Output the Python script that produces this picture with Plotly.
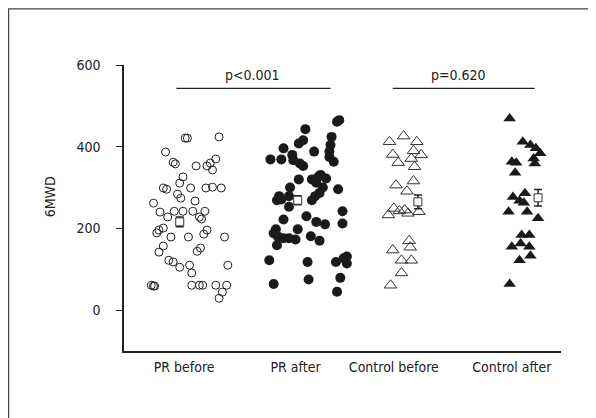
import plotly.graph_objects as go

# ---- data ----
categories = ["PR before", "PR after", "Control before", "Control after"]
category_pos = [1.00, 2.02, 2.92, 4.00]

pr_before_x = [1.01, 1.03, 1.32, 0.83, 0.90, 0.92, 1.11, 1.21, 1.24, 1.29, 1.26, 0.99, 0.96, 0.81, 0.84,
               1.06, 1.20, 1.26, 1.34, 0.94, 0.97, 0.72, 1.10, 0.78, 0.85, 0.91, 0.99, 1.08, 1.19, 1.14,
               1.16, 0.81, 0.77, 0.75, 1.21, 1.18, 0.88, 1.04, 1.37, 0.81, 0.77, 1.15, 1.12, 0.86, 0.90,
               0.96, 1.05, 1.07, 1.40, 0.70, 0.72, 0.73, 1.07, 1.14, 1.17, 1.29, 1.39, 1.35, 1.32]
pr_before_y = [421, 421, 424, 387, 362, 358, 353, 353, 360, 370, 343, 326, 311, 299, 296,
               299, 299, 301, 299, 284, 274, 262, 267, 240, 228, 242, 242, 242, 242, 228,
               223, 201, 196, 189, 196, 186, 179, 179, 179, 157, 142, 152, 144, 122, 118,
               105, 110, 91, 110, 61, 59, 59, 61, 61, 61, 61, 61, 44, 29]

pr_after_x = [2.40, 2.42, 2.11, 2.09, 2.05, 2.35, 2.34, 2.33, 2.33, 2.37, 1.91, 1.79, 1.89, 1.99, 2.19,
              2.00, 2.06, 2.09, 2.05, 2.17, 2.23, 2.25, 2.30, 2.21, 2.27, 1.97, 2.41, 1.87, 1.85, 1.89,
              1.96, 2.24, 2.20, 2.17, 1.96, 2.12, 1.91, 2.21, 2.29, 2.45, 2.45, 1.84, 1.82, 1.86, 1.91,
              1.96, 2.02, 2.04, 1.85, 2.16, 2.24, 1.78, 2.13, 2.39, 2.46, 2.49, 2.49, 1.82, 2.14, 2.43, 2.40]
pr_after_y = [461, 465, 443, 416, 408, 424, 404, 388, 375, 363, 396, 369, 369, 380, 388,
              367, 359, 353, 320, 320, 327, 331, 322, 312, 300, 300, 296, 279, 269, 271,
              279, 287, 279, 269, 253, 230, 222, 216, 210, 242, 212, 198, 188, 180, 176,
              176, 173, 198, 159, 181, 170, 122, 118, 118, 127, 131, 114, 64, 75, 79, 45]

ctrl_before_x = [2.88, 3.01, 3.13, 3.10, 3.08, 3.17, 3.11, 2.91, 2.96, 2.94, 3.10, 3.04, 2.92, 2.97, 3.02,
                 3.05, 2.87, 3.15, 3.06, 3.07, 2.91, 2.99, 3.08, 2.99, 2.89]
ctrl_before_y = [412, 426, 412, 390, 371, 380, 351, 381, 361, 306, 316, 291, 249, 243, 245,
                 237, 233, 241, 170, 154, 147, 122, 122, 91, 61]

ctrl_after_x = [3.98, 4.10, 4.17, 4.22, 4.26, 4.20, 4.21, 4.00, 4.04, 4.03, 4.01, 4.07, 4.12, 4.11, 3.97,
                4.14, 4.24, 4.09, 4.16, 4.00, 4.08, 4.16, 4.07, 4.17, 3.98]
ctrl_after_y = [469, 412, 404, 396, 384, 371, 359, 363, 361, 336, 277, 268, 286, 263, 241,
                241, 225, 184, 184, 155, 163, 155, 122, 133, 64]

mean_x = [0.96, 2.04, 3.14, 4.24]
mean_y = [216, 269, 265, 275]
sem = [12, 11, 17, 20]

y_ticks = [0, 200, 400, 600]
p_labels = ["p<0.001", "p=0.620"]

FONT = "Liberation Sans Narrow, DejaVu Sans Condensed, Arial Narrow, sans-serif"

fig = go.Figure()

fig.add_trace(go.Scatter(x=pr_before_x, y=pr_before_y, mode="markers",
                         marker=dict(symbol="circle-open", size=8, color="#222", line=dict(width=1)),
                         cliponaxis=False, showlegend=False))
fig.add_trace(go.Scatter(x=pr_after_x, y=pr_after_y, mode="markers",
                         marker=dict(symbol="circle", size=10, color="#1a1a1a"),
                         cliponaxis=False, showlegend=False))
fig.add_trace(go.Scatter(x=ctrl_before_x, y=ctrl_before_y, mode="markers",
                         marker=dict(symbol="triangle-up-open", size=11, color="#333", line=dict(width=1)),
                         cliponaxis=False, showlegend=False))
fig.add_trace(go.Scatter(x=ctrl_after_x, y=ctrl_after_y, mode="markers",
                         marker=dict(symbol="triangle-up", size=11, color="#1a1a1a"),
                         cliponaxis=False, showlegend=False))
fig.add_trace(go.Scatter(x=mean_x, y=mean_y, mode="markers",
                         marker=dict(symbol="square", size=8, color="white",
                                     line=dict(width=1, color="#333")),
                         error_y=dict(type="data", array=sem, visible=True, color="#222",
                                      thickness=1.5, width=4),
                         cliponaxis=False, showlegend=False))

# significance bars
sig = [(0.93, 2.34, 1.63), (2.91, 4.21, 3.51)]
for (x0, x1, xc), lab in zip(sig, p_labels):
    fig.add_shape(type="line", xref="x", yref="y", x0=x0, x1=x1, y0=543, y1=543,
                  line=dict(color="#222", width=1.3))
    fig.add_annotation(x=xc, y=543, xref="x", yref="y", text=lab, showarrow=False,
                       yanchor="bottom", yshift=3, font=dict(family=FONT, size=14, color="#222"))

# y-axis title
fig.add_annotation(xref="paper", yref="paper", x=-0.17, y=0.54, text="6MWD", textangle=-90,
                   xanchor="center", yanchor="middle",
                   showarrow=False, font=dict(family=FONT, size=14, color="#222"))

# outer frame (figure edge)
fig.add_shape(type="rect", xref="paper", yref="paper", x0=-0.2640, x1=1.15, y0=-0.35, y1=1.1965,
              line=dict(color="#444", width=1.2), layer="below")

fig.update_layout(
    width=596, height=418,
    margin=dict(l=116, r=43, t=57, b=75),
    plot_bgcolor="white", paper_bgcolor="white",
    font=dict(family=FONT, size=14, color="#222"),
    xaxis=dict(range=[0.45, 4.45], tickvals=category_pos, ticktext=categories,
               showline=True, linecolor="#222", linewidth=1.5, showgrid=False, zeroline=False,
               ticks="", tickfont=dict(size=14), ticklabelstandoff=2),
    yaxis=dict(range=[-100, 600], tickvals=y_ticks, showline=True, linecolor="#222", linewidth=1.5,
               showgrid=False, zeroline=False, ticks="outside", ticklen=6, tickwidth=1.3,
               tickcolor="#222", ticklabelstandoff=13),
)

fig.write_html("out.html")
